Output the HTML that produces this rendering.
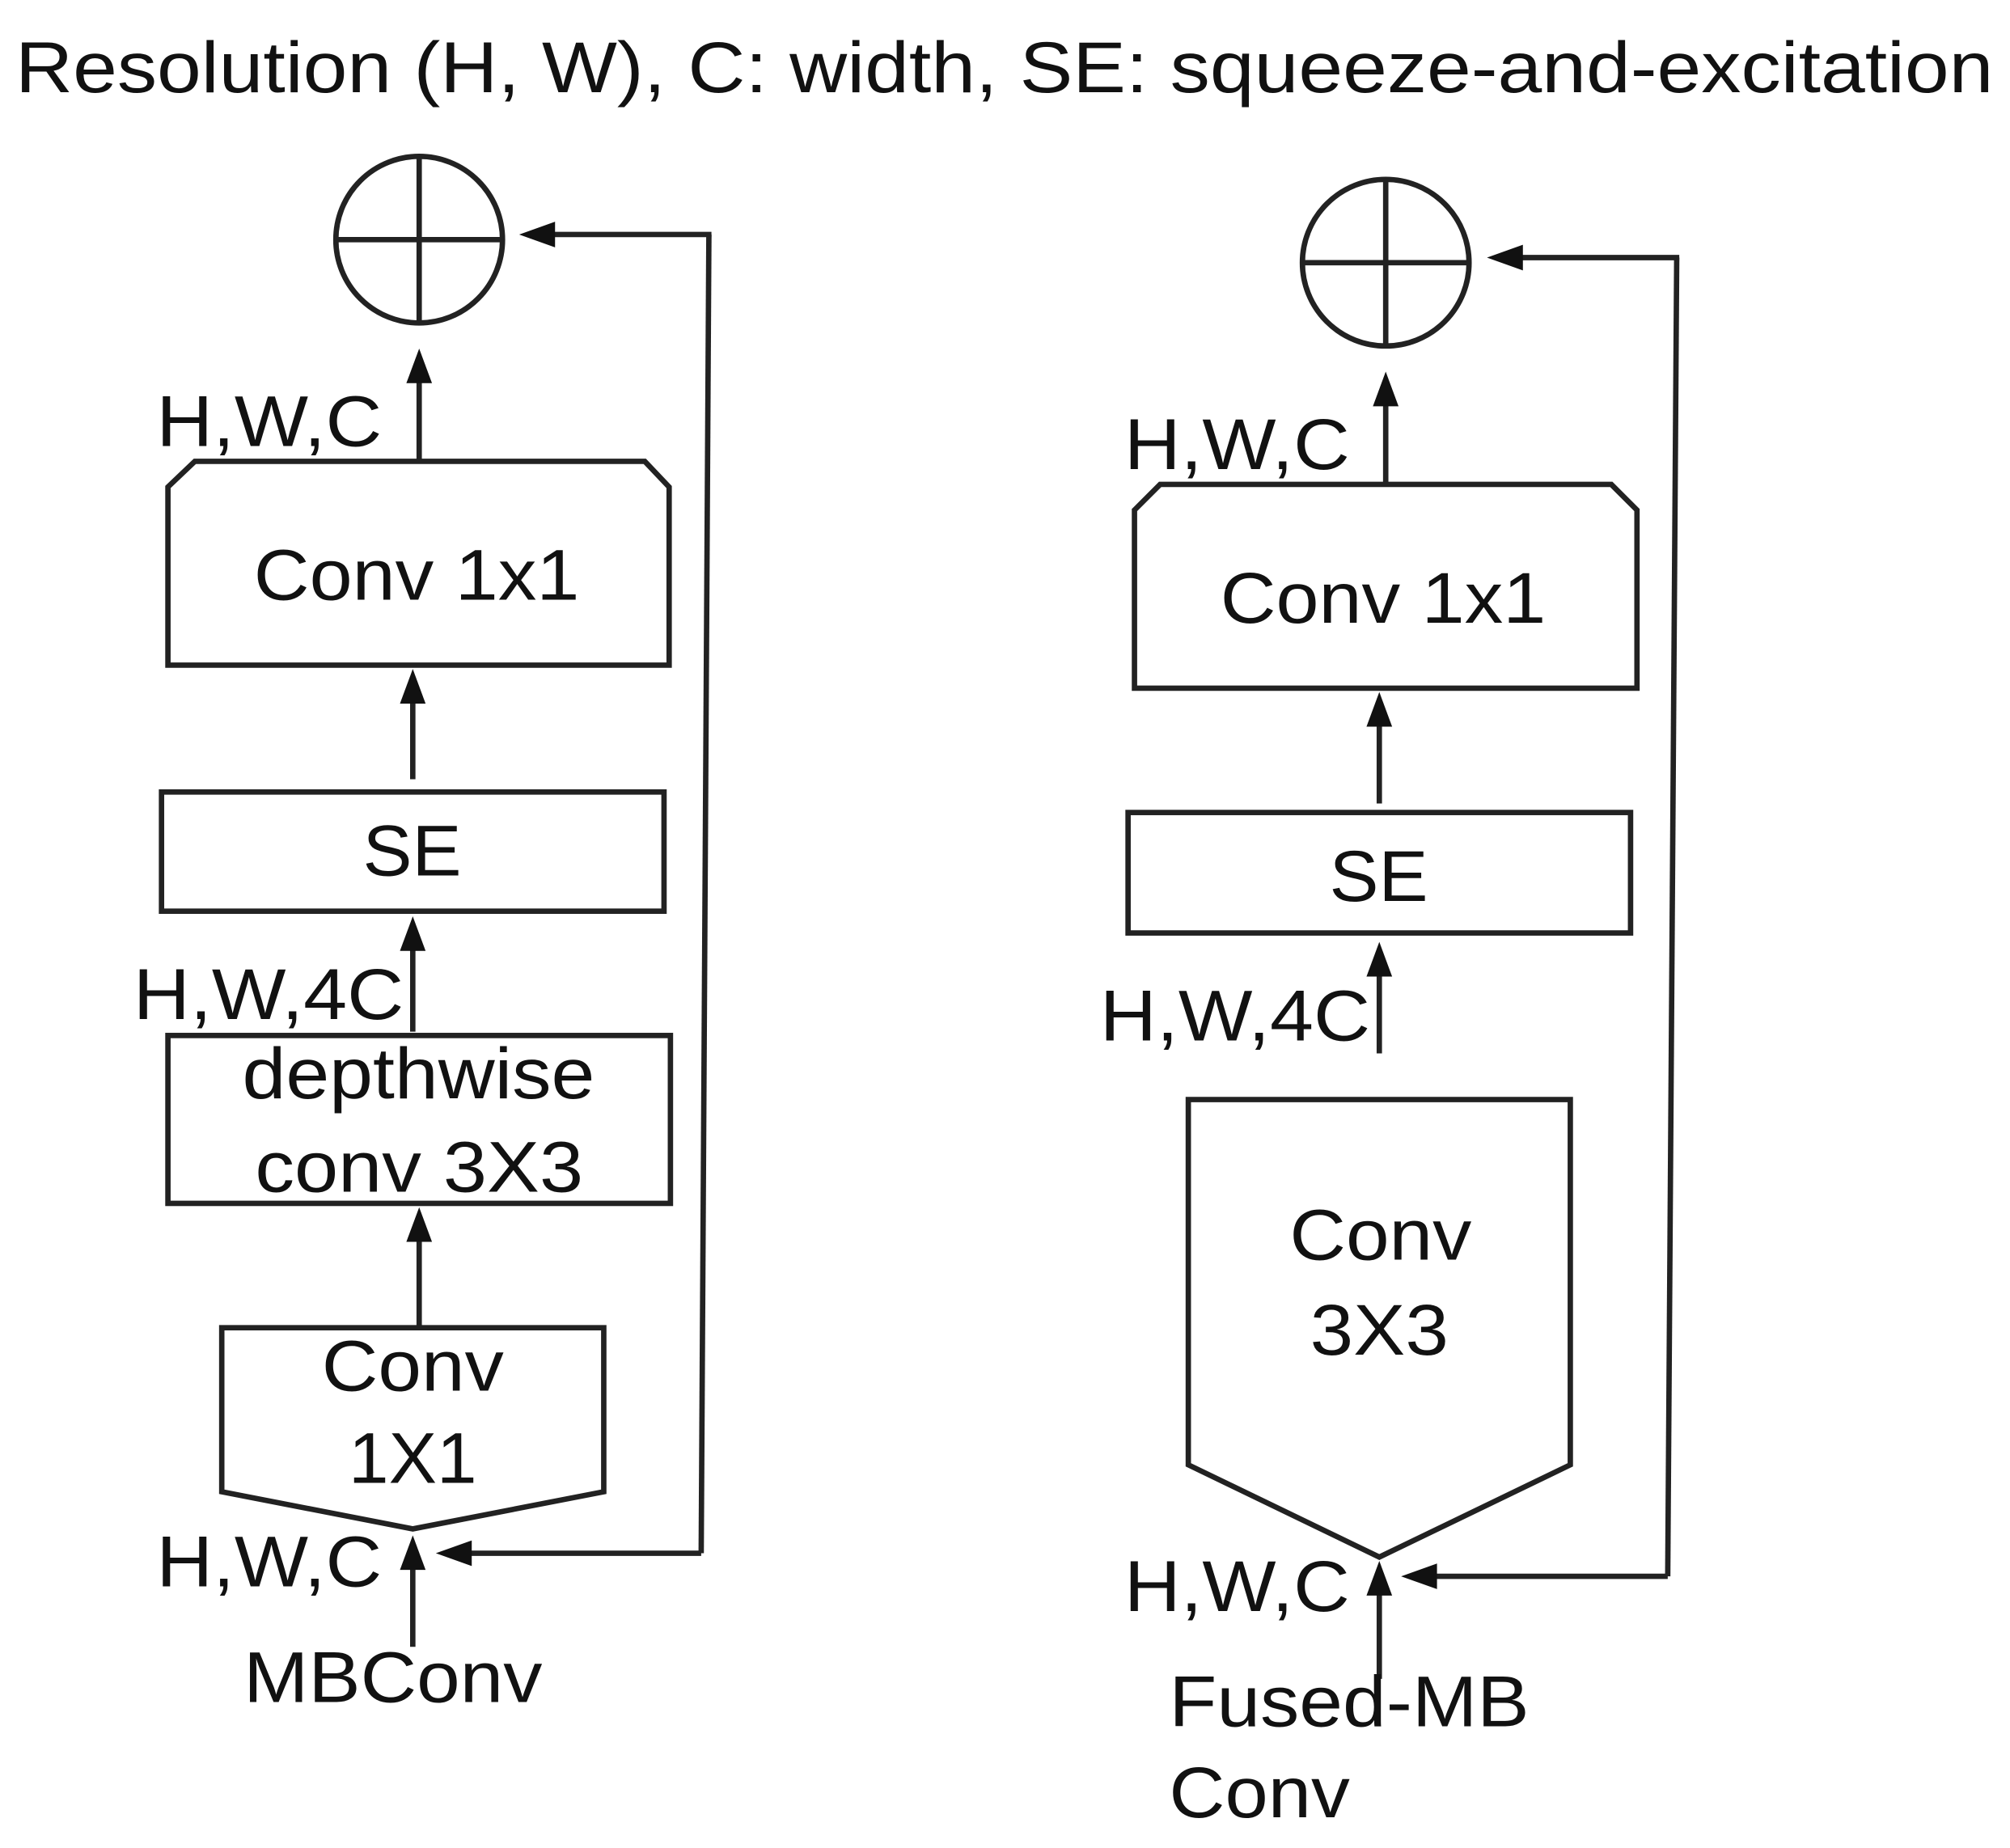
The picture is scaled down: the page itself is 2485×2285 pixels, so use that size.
<!DOCTYPE html>
<html><head><meta charset="utf-8"><style>
html,body{margin:0;padding:0;background:#fff;}
svg{display:block;}
text{font-family:"Liberation Sans",Arial,sans-serif;fill:#111;}
</style></head><body>
<svg width="2485" height="2285" viewBox="0 0 1568 1442" preserveAspectRatio="none" xmlns="http://www.w3.org/2000/svg">
<g stroke="#222" stroke-width="4.2" fill="none">
<circle cx="327" cy="187" r="65"/>
<line x1="262" y1="187" x2="392" y2="187"/><line x1="327" y1="122" x2="327" y2="252"/>
<polyline points="555,183 420,183"/>
<line x1="553" y1="183" x2="547" y2="1212"/>
<line x1="547" y1="1212" x2="355" y2="1212"/>
<line x1="327" y1="360" x2="327" y2="290"/>
<polygon points="131,380 152,360 503,360 522,380 522,519 131,519"/>
<line x1="322" y1="608" x2="322" y2="540"/>
<rect x="126" y="618" width="392" height="93"/>
<line x1="322" y1="805" x2="322" y2="732"/>
<rect x="131" y="808" width="392" height="131"/>
<line x1="327" y1="1035" x2="327" y2="962"/>
<polygon points="173,1036 471,1036 471,1164 322,1193 173,1164"/>
<line x1="322" y1="1285" x2="322" y2="1215"/>
<circle cx="1081" cy="205" r="65"/>
<line x1="1016" y1="205" x2="1146" y2="205"/><line x1="1081" y1="140" x2="1081" y2="270"/>
<line x1="1310" y1="201" x2="1175" y2="201"/>
<line x1="1308" y1="201" x2="1301" y2="1230"/>
<line x1="1301" y1="1230" x2="1110" y2="1230"/>
<line x1="1081" y1="378" x2="1081" y2="308"/>
<polygon points="885,398 905,378 1257,378 1277,398 1277,537 885,537"/>
<line x1="1076" y1="627" x2="1076" y2="558"/>
<rect x="880" y="634" width="392" height="94"/>
<line x1="1076" y1="822" x2="1076" y2="752"/>
<polygon points="927,858 1225,858 1225,1143 1076,1215 927,1143"/>
<line x1="1076" y1="1310" x2="1076" y2="1235"/>
</g>
<g fill="#111">
<polygon points="405,183 433,173 433,193"/>
<polygon points="340,1212 368,1202 368,1222"/>
<polygon points="327,272 317,299 337,299"/>
<polygon points="322,522 312,549 332,549"/>
<polygon points="322,715 312,742 332,742"/>
<polygon points="327,942 317,969 337,969"/>
<polygon points="322,1198 312,1225 332,1225"/>
<polygon points="1160,201 1188,191 1188,211"/>
<polygon points="1093,1230 1121,1220 1121,1240"/>
<polygon points="1081,290 1071,317 1091,317"/>
<polygon points="1076,540 1066,567 1086,567"/>
<polygon points="1076,735 1066,762 1086,762"/>
<polygon points="1076,1218 1066,1245 1086,1245"/>
</g>
<g font-size="56">
<text x="12" y="72" font-size="56" textLength="1543" lengthAdjust="spacingAndGlyphs">Resolution (H, W), C: width, SE:  squeeze-and-excitation</text>
<text x="122" y="348" textLength="176" lengthAdjust="spacingAndGlyphs">H,W,C</text>
<text x="198" y="468" textLength="254" lengthAdjust="spacingAndGlyphs">Conv 1x1</text>
<text x="283" y="683" textLength="77" lengthAdjust="spacingAndGlyphs">SE</text>
<text x="104" y="795" textLength="211" lengthAdjust="spacingAndGlyphs">H,W,4C</text>
<text x="189" y="857" textLength="275" lengthAdjust="spacingAndGlyphs">depthwise</text>
<text x="199" y="930" textLength="256" lengthAdjust="spacingAndGlyphs">conv 3X3</text>
<text x="251" y="1085" textLength="142" lengthAdjust="spacingAndGlyphs">Conv</text>
<text x="272" y="1157" textLength="100" lengthAdjust="spacingAndGlyphs">1X1</text>
<text x="122" y="1238" textLength="176" lengthAdjust="spacingAndGlyphs">H,W,C</text>
<text x="190" y="1328" textLength="233" lengthAdjust="spacingAndGlyphs">MBConv</text>
<text x="877" y="366" textLength="176" lengthAdjust="spacingAndGlyphs">H,W,C</text>
<text x="952" y="486" textLength="254" lengthAdjust="spacingAndGlyphs">Conv 1x1</text>
<text x="1037" y="703" textLength="77" lengthAdjust="spacingAndGlyphs">SE</text>
<text x="858" y="812" textLength="211" lengthAdjust="spacingAndGlyphs">H,W,4C</text>
<text x="1006" y="983" textLength="142" lengthAdjust="spacingAndGlyphs">Conv</text>
<text x="1022" y="1057" textLength="108" lengthAdjust="spacingAndGlyphs">3X3</text>
<text x="877" y="1257" textLength="176" lengthAdjust="spacingAndGlyphs">H,W,C</text>
<text x="912" y="1347" textLength="281" lengthAdjust="spacingAndGlyphs">Fused-MB</text>
<text x="912" y="1418" textLength="141" lengthAdjust="spacingAndGlyphs">Conv</text>
</g>
</svg>
</body></html>
